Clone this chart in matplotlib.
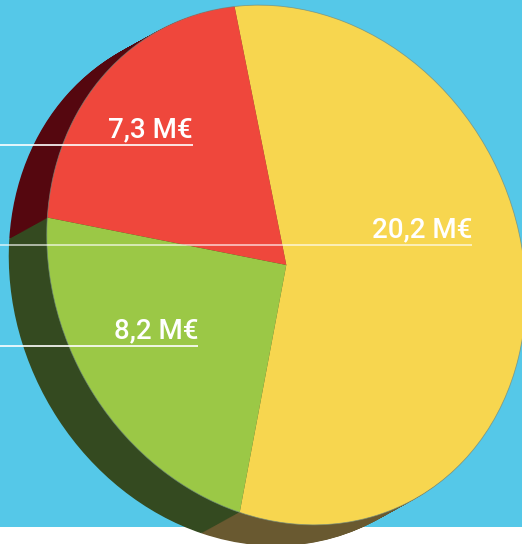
import numpy as np
import matplotlib.pyplot as plt
from matplotlib.patches import Rectangle, Circle
from matplotlib.transforms import Affine2D

# chart data
values = [20.2, 7.3, 8.2]
labels = [f"{v:.1f} M€".replace('.', ',') for v in values]
colors = ['#F7D64F', '#EF473C', '#9BC846']
side_colors = ['#695930', '#55070F', '#344A20']
BLUE = '#55C8E8'

W, H = 522, 544
fig = plt.figure(figsize=(W / 100, H / 100), dpi=100, facecolor='white')

# blue background, white strip at the bottom
bg = fig.add_axes([0, 0, 1, 1])
bg.set_xlim(0, W)
bg.set_ylim(0, H)
bg.axis('off')
bg.add_patch(Rectangle((0, 17), W, H - 17, color=BLUE, lw=0))

# tilted disc: unit circle -> ellipse in pixel coords (y up)
disc = np.array([[122.6, -205.8, 286.3],
                 [-237.1, -106.4, 279.0],
                 [0.0, 0.0, 1.0]])
DX, DY = -38, -21   # depth of the extruded side

ax = fig.add_axes([0, 0, 1, 1])
ax.patch.set_alpha(0)
steps = 40
for i in range(steps, -1, -1):
    f = i / steps
    cols = colors if i == 0 else side_colors
    wedges, _ = ax.pie(values, colors=cols, startangle=42, counterclock=False,
                       wedgeprops=dict(lw=0))
    tr = Affine2D(disc.copy()).translate(f * DX, f * DY) + ax.transData
    for w in wedges:
        w.set_transform(tr)
rim = Circle((0, 0), 1, fc='none', ec='#6F8A80', lw=0.6, alpha=0.7)
ax.add_patch(rim)
rim.set_transform(Affine2D(disc.copy()) + ax.transData)
ax.set_aspect('auto')
ax.set_xlim(0, W)
ax.set_ylim(0, H)
ax.axis('off')

# labels with white leader lines
ov = fig.add_axes([0, 0, 1, 1])
ov.patch.set_alpha(0)
ov.set_xlim(0, W)
ov.set_ylim(H, 0)
ov.axis('off')
label_y = [245, 145, 346]
label_x = [472, 193, 198]
line_alpha = [0.7, 1, 1]
for lab, y, x, a in zip(labels, label_y, label_x, line_alpha):
    ov.plot([0, x], [y, y], color='white', lw=1.2, alpha=a, solid_capstyle='butt')
    ov.text(x, y - 8, lab, ha='right', va='baseline', color='white', fontsize=20,
            fontweight='medium', family=['Roboto', 'DejaVu Sans'])

fig.savefig('out.png', dpi=100, facecolor='white')
